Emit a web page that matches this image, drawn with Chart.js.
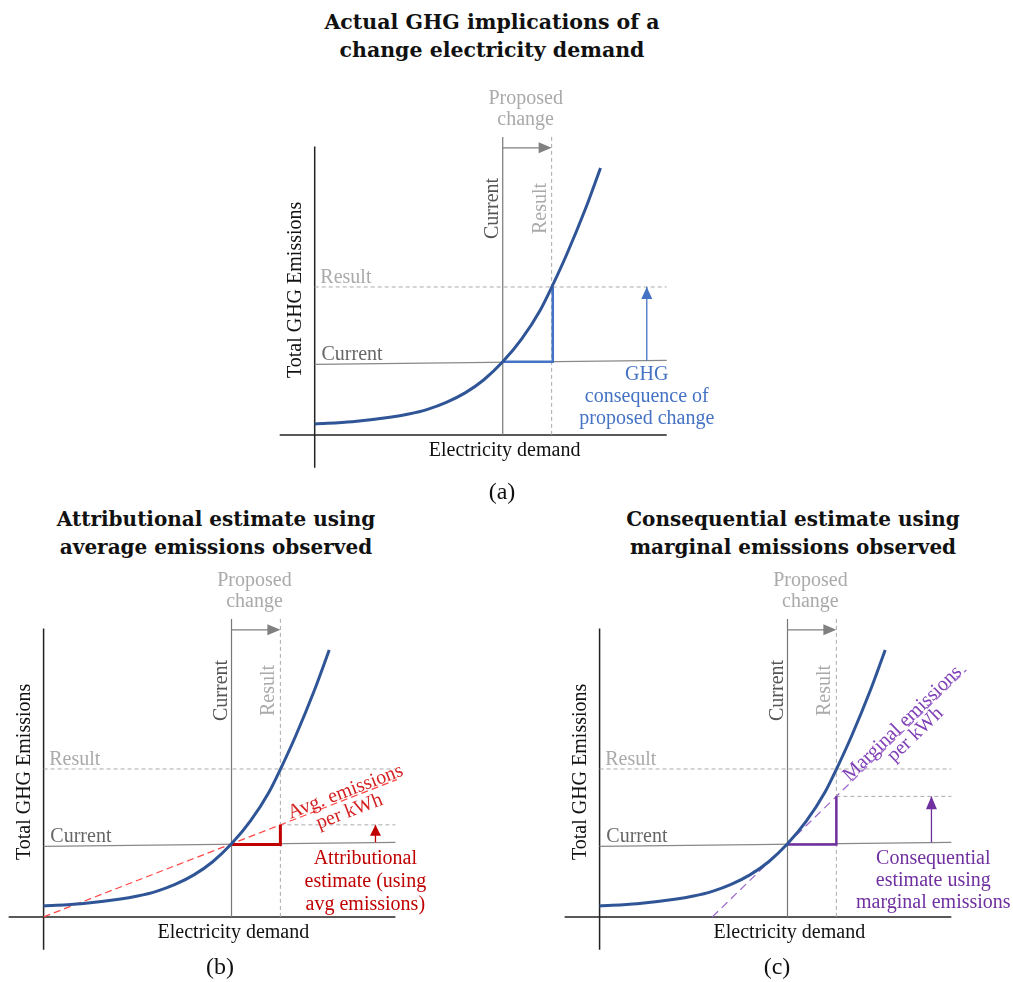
<!DOCTYPE html>
<html>
<head>
<meta charset="utf-8">
<script src="https://cdn.jsdelivr.net/npm/chart.js@4.4.1/dist/chart.umd.min.js"></script>
<style>
  body { margin: 0; background: #fff; width: 1013px; height: 982px; position: relative; overflow: hidden; font-family: "Liberation Serif", serif; }
  canvas { position: absolute; }
  .title { position: absolute; width: 500px; text-align: center; font-family: "DejaVu Serif", serif; font-weight: bold; font-size: 20px; line-height: 28px; color: #111; }
  .cap { position: absolute; width: 60px; text-align: center; font-size: 24px; line-height: 28px; color: #111; }
</style>
</head>
<body>
<div class="title" id="title-a" style="left:242px;top:8px;font-size:20.5px"></div>
<div class="title" id="title-b" style="left:-34px;top:505px"></div>
<div class="title" id="title-c" style="left:543px;top:505px"></div>
<canvas id="panel-a" width="519" height="409" style="left:247px;top:77px"></canvas>
<canvas id="panel-b" width="436" height="409" style="left:6px;top:559px"></canvas>
<canvas id="panel-c" width="451" height="409" style="left:562px;top:559px"></canvas>
<div class="cap" id="cap-a" style="left:472px;top:477px"></div>
<div class="cap" id="cap-b" style="left:190px;top:952px"></div>
<div class="cap" id="cap-c" style="left:747px;top:952px"></div>
<script>
// emissions curve (arbitrary demand / emissions units)
const demand = [0, 1, 2, 2.5, 3, 3.5, 4, 4.5, 5, 5.5, 6, 6.3, 6.7, 7.2, 7.6];
const emissions = [0.30, 0.36, 0.48, 0.57, 0.70, 0.89, 1.15, 1.51, 2.0, 2.62, 3.42, 4.04, 4.94, 6.19, 7.31];

const xAxisSpan = [-0.93, 9.36];
const yAxisSpan = [-0.9, 7.9];
const currentDemand = 5.0;
const resultDemand = 6.3;
const currentLevel = [1.93, 2.04];   // grey "Current" line, left and right end
const resultLevel = 4.05;
const avgLevel = 2.52;
const marginalLevel = 3.3;
const avgLineX = [0, 9.4];
const avgLineY = [0, 3.76];
const marginalLineX = [3.0, 9.76];
const marginalLineY = [0, 6.76];
const markerTop = 8.16;
const changeArrowY = 7.86;
const estimateArrowX = 8.83;

const titles = {
  a: ["Actual GHG implications of a", "change electricity demand"],
  b: ["Attributional estimate using", "average emissions observed"],
  c: ["Consequential estimate using", "marginal emissions observed"],
};
const captions = { a: "(a)", b: "(b)", c: "(c)" };
const noteA = ["GHG", "consequence of", "proposed change"];
const noteB = ["Attributional", "estimate (using", "avg emissions)"];
const noteC = ["Consequential", "estimate using", "marginal emissions"];

const C = {
  axis: "#222",
  current: "#777",
  faint: "#aaa",
  curve: "#2f5597",
  blue: "#4472c4",
  red: "#c00000",
  redDash: "#ff4545",
  purple: "#7030a0",
  purpleDash: "#9a66cc",
};

const pts = (xs, ys) => xs.map((x, i) => ({ x, y: ys[i] }));
const line = (data, color, width, dash) => ({ data, borderColor: color, borderWidth: width, borderDash: dash || [], pointRadius: 0, showLine: true, fill: false });

const annotate = {
  id: "annotate",
  afterDatasetsDraw(chart, args, opts) {
    const { ctx, scales: { x, y } } = chart;
    ctx.save();
    (opts.arrows || []).forEach((a) => {
      const px = x.getPixelForValue(a.x), py = y.getPixelForValue(a.y);
      ctx.fillStyle = a.color;
      ctx.beginPath();
      if (a.dir === "right") {
        ctx.moveTo(px, py); ctx.lineTo(px - a.len, py - a.half); ctx.lineTo(px - a.len, py + a.half);
      } else {
        ctx.moveTo(px, py); ctx.lineTo(px - a.half, py + a.len); ctx.lineTo(px + a.half, py + a.len);
      }
      ctx.closePath();
      ctx.fill();
    });
    (opts.labels || []).forEach((l) => {
      ctx.save();
      ctx.translate(x.getPixelForValue(l.x), y.getPixelForValue(l.y));
      if (l.rot) ctx.rotate((l.rot * Math.PI) / 180);
      ctx.font = `${l.size || 20}px "Liberation Serif", serif`;
      ctx.fillStyle = l.color;
      ctx.textAlign = l.align || "center";
      ctx.textBaseline = "middle";
      ctx.fillText(l.text, 0, 0);
      ctx.restore();
    });
    ctx.restore();
  },
};

function commonLabels() {
  return [
    { text: "Proposed", x: 5.61, y: 9.2, color: C.faint },
    { text: "change", x: 5.61, y: 8.63, color: C.faint },
    { text: "Current", x: 4.73, y: 6.2, rot: -90, color: "#555" },
    { text: "Result", x: 6.0, y: 6.2, rot: -90, color: C.faint },
    { text: "Result", x: 0.15, y: 4.3, align: "left", color: C.faint },
    { text: "Current", x: 0.18, y: 2.2, align: "left", color: "#666" },
    { text: "Total GHG Emissions", x: -0.5, y: 3.97, rot: -90, color: "#111" },
    { text: "Electricity demand", x: 5.05, y: -0.44, color: "#111" },
  ];
}

function noteLabels(lines, x, ys, color) {
  return lines.map((text, i) => ({ text, x, y: ys[i], color }));
}

function makePanel(id, xRange, extra, labels, arrowColor, arrowTip, arrowHead) {
  const datasets = [
    line(pts(demand, emissions), C.curve, 3),
    ...extra,
    line(pts([estimateArrowX, estimateArrowX], [currentLevel[1], arrowTip]), arrowColor, 1.3),
    line(pts([currentDemand, resultDemand - 0.2], [changeArrowY, changeArrowY]), "#808080", 1.3),
    line(pts([currentDemand, currentDemand], [0, markerTop]), C.current, 1.2),
    line(pts([resultDemand, resultDemand], [0, markerTop]), C.faint, 1, [4, 3]),
    line(pts([0, xAxisSpan[1]], currentLevel), "#888", 1.2),
    line(pts([0, xAxisSpan[1]], [resultLevel, resultLevel]), C.faint, 1, [4, 3]),
    line(pts([0, 0], yAxisSpan), C.axis, 1.5),
    line(pts(xAxisSpan, [0, 0]), C.axis, 1.5),
  ];
  datasets[0].cubicInterpolationMode = "monotone";
  new Chart(document.getElementById(id), {
    type: "scatter",
    data: { datasets },
    plugins: [annotate],
    options: {
      responsive: false,
      animation: false,
      layout: { padding: 0 },
      scales: {
        x: { type: "linear", display: false, min: xRange[0], max: xRange[1] },
        y: { type: "linear", display: false, min: -1.4, max: 9.8 },
      },
      plugins: {
        legend: { display: false },
        tooltip: { enabled: false },
        annotate: {
          labels: [...commonLabels(), ...labels],
          arrows: [
            { x: resultDemand, y: changeArrowY, dir: "right", len: 13, half: 5.5, color: "#808080" },
            { x: estimateArrowX, y: arrowTip, dir: "up", len: arrowHead, half: 5.5, color: arrowColor },
          ],
        },
      },
    },
  });
}

makePanel("panel-a", [-1.8, 12], [
  line(pts([currentDemand, resultDemand + 0.03, resultDemand + 0.03], [2.0, 2.0, resultLevel]), C.blue, 2.5),
], noteLabels(noteA, 8.83, [1.64, 1.04, 0.44], C.blue), C.blue, resultLevel, 12);

makePanel("panel-b", [-1.0, 10.6], [
  line(pts([currentDemand, resultDemand, resultDemand], [1.98, 1.98, avgLevel]), C.red, 3),
  line(pts(avgLineX, avgLineY), C.redDash, 1.2, [7, 4]),
  line(pts([resultDemand, xAxisSpan[1]], [avgLevel, avgLevel]), C.faint, 1, [4, 3]),
], [
  ...noteLabels(noteB, 8.56, [1.59, 0.96, 0.33], C.red),
  { text: "Avg. emissions", x: 8.03, y: 3.42, rot: -21, color: "#d42020" },
  { text: "per kWh", x: 8.14, y: 2.88, rot: -21, color: "#d42020" },
], C.red, avgLevel, 11);

makePanel("panel-c", [-1.0, 11.0], [
  line(pts([currentDemand, resultDemand, resultDemand], [1.98, 1.98, marginalLevel]), C.purple, 2.5),
  line(pts(marginalLineX, marginalLineY), C.purpleDash, 1.2, [8, 5]),
  line(pts([resultDemand, xAxisSpan[1]], [marginalLevel, marginalLevel]), C.faint, 1, [4, 3]),
], [
  ...noteLabels(noteC, 8.88, [1.59, 0.99, 0.38], C.purple),
  { text: "Marginal emissions", x: 8.06, y: 5.29, rot: -44, color: "#8040b8" },
  { text: "per kWh", x: 8.4, y: 4.99, rot: -44, color: "#8040b8" },
], C.purple, marginalLevel, 13);

["a", "b", "c"].forEach((k) => {
  document.getElementById("title-" + k).innerHTML = titles[k].join("<br>");
  document.getElementById("cap-" + k).textContent = captions[k];
});
</script>
</body>
</html>
